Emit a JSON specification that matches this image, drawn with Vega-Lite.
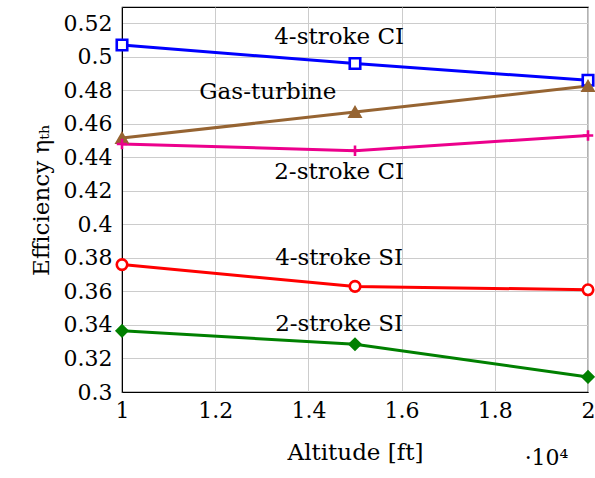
{
  "$schema": "https://vega.github.io/schema/vega-lite/v6.json",
  "width": 466,
  "height": 385,
  "autosize": {"type": "none"},
  "padding": {"left": 122, "top": 7, "right": 7, "bottom": 86},
  "background": "white",
  "config": {
    "font": "DejaVu Serif",
    "view": {"stroke": "black", "strokeWidth": 1.2},
    "axis": {
      "labelFont": "DejaVu Serif",
      "titleFont": "DejaVu Serif",
      "labelFontSize": 22,
      "titleFontSize": 23,
      "labelColor": "black",
      "titleColor": "black",
      "titleFontWeight": "normal",
      "gridColor": "#cccccc",
      "gridWidth": 1,
      "domainColor": "black",
      "tickColor": "#888888",
      "tickSize": 0,
      "labelOverlap": false,
      "labelFlush": false,
      "labelBound": false
    }
  },
  "title": {
    "text": "·10⁴",
    "orient": "bottom",
    "anchor": "end",
    "font": "DejaVu Serif",
    "fontSize": 22,
    "fontWeight": "normal",
    "color": "black",
    "offset": -16,
    "dx": -30
  },
  "datasets": {
    "series": [
      {"engine": "4-stroke CI", "alt": 1.0, "eff": 0.507},
      {"engine": "4-stroke CI", "alt": 1.5, "eff": 0.496},
      {"engine": "4-stroke CI", "alt": 2.0, "eff": 0.486},
      {"engine": "Gas-turbine", "alt": 1.0, "eff": 0.4515},
      {"engine": "Gas-turbine", "alt": 1.5, "eff": 0.467},
      {"engine": "Gas-turbine", "alt": 2.0, "eff": 0.4825},
      {"engine": "2-stroke CI", "alt": 1.0, "eff": 0.448},
      {"engine": "2-stroke CI", "alt": 1.5, "eff": 0.444},
      {"engine": "2-stroke CI", "alt": 2.0, "eff": 0.453},
      {"engine": "4-stroke SI", "alt": 1.0, "eff": 0.376},
      {"engine": "4-stroke SI", "alt": 1.5, "eff": 0.363},
      {"engine": "4-stroke SI", "alt": 2.0, "eff": 0.361},
      {"engine": "2-stroke SI", "alt": 1.0, "eff": 0.3365},
      {"engine": "2-stroke SI", "alt": 1.5, "eff": 0.3285},
      {"engine": "2-stroke SI", "alt": 2.0, "eff": 0.309}
    ],
    "labels": [
      {"label": "4-stroke CI", "alt": 1.466, "eff": 0.5118},
      {"label": "Gas-turbine", "alt": 1.313, "eff": 0.479},
      {"label": "2-stroke CI", "alt": 1.466, "eff": 0.4313},
      {"label": "4-stroke SI", "alt": 1.466, "eff": 0.38},
      {"label": "2-stroke SI", "alt": 1.466, "eff": 0.3406}
    ]
  },
  "layer": [
    {
      "data": {"name": "series"},
      "mark": {"type": "line", "strokeWidth": 3},
      "encoding": {
        "x": {
          "field": "alt", "type": "quantitative",
          "scale": {"domain": [1, 2], "nice": false, "zero": false},
          "axis": {"tickCount": 5, "format": ".1~f", "title": "Altitude [ft]", "labelPadding": 8, "titlePadding": 20, "grid": true, "labelOverlap": false, "labelFlush": false}
        },
        "y": {
          "field": "eff", "type": "quantitative",
          "scale": {"domain": [0.3, 0.5297], "nice": false, "zero": false},
          "axis": {"tickCount": 12, "format": ".2~f", "title": "Efficiency ηₜₕ", "labelPadding": 10, "titlePadding": 10, "grid": true, "labelOverlap": false, "labelFlush": false}
        },
        "color": {
          "field": "engine", "type": "nominal", "legend": null,
          "scale": {"domain": ["4-stroke CI", "Gas-turbine", "2-stroke CI", "4-stroke SI", "2-stroke SI"],
                    "range": ["#0000ff", "#966432", "#ec008c", "#ff0000", "#008000"]}
        },
        "detail": {"field": "engine"}
      }
    },
    {
      "data": {"name": "series"},
      "mark": {"type": "point", "strokeWidth": 2.6, "size": 110, "opacity": 1},
      "encoding": {
        "x": {"field": "alt", "type": "quantitative"},
        "y": {"field": "eff", "type": "quantitative"},
        "shape": {
          "field": "engine", "type": "nominal", "legend": null,
          "scale": {"domain": ["4-stroke CI", "Gas-turbine", "2-stroke CI", "4-stroke SI", "2-stroke SI"],
                    "range": ["square", "triangle-up", "M-1,0L1,0M0,-1L0,1", "circle", "diamond"]}
        },
        "stroke": {
          "field": "engine", "type": "nominal", "legend": null,
          "scale": {"domain": ["4-stroke CI", "Gas-turbine", "2-stroke CI", "4-stroke SI", "2-stroke SI"],
                    "range": ["#0000ff", "#966432", "#ec008c", "#ff0000", "#008000"]}
        },
        "fill": {
          "field": "engine", "type": "nominal", "legend": null,
          "scale": {"domain": ["4-stroke CI", "Gas-turbine", "2-stroke CI", "4-stroke SI", "2-stroke SI"],
                    "range": ["white", "#966432", "#ec008c", "white", "#008000"]}
        }
      }
    },
    {
      "data": {"name": "labels"},
      "mark": {"type": "text", "font": "DejaVu Serif", "fontSize": 23, "color": "black", "align": "center", "baseline": "middle"},
      "encoding": {
        "x": {"field": "alt", "type": "quantitative"},
        "y": {"field": "eff", "type": "quantitative"},
        "text": {"field": "label", "type": "nominal"}
      }
    }
  ]
}
